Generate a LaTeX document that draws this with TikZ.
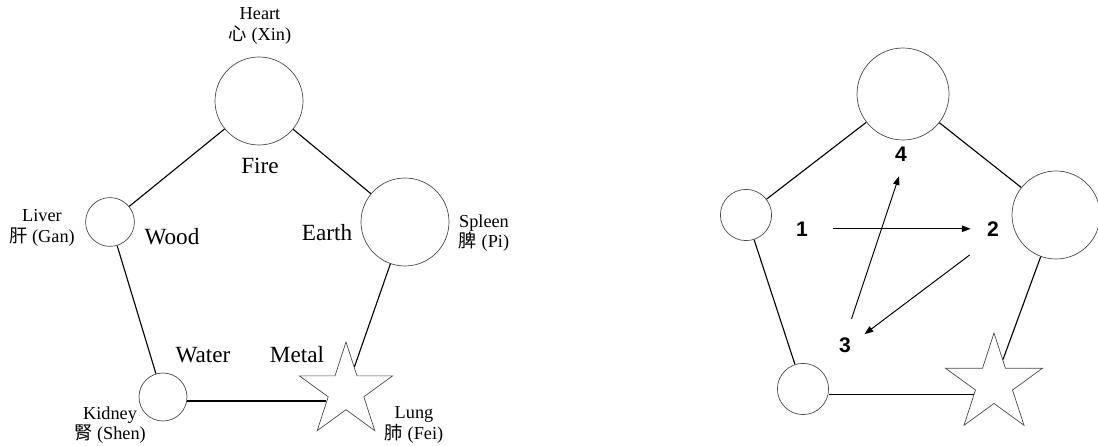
\documentclass[tikz,border=0pt]{standalone}
\usepackage{fontspec}
\setmainfont{Liberation Serif}
\newfontfamily\cjk{Noto Sans CJK TC}
\newfontfamily\numfont{Liberation Sans}
\usetikzlibrary{shapes.geometric,arrows.meta}

\tikzset{
  organ/.style={draw=black!70, line width=0.5pt, circle, inner sep=0pt, fill=white},
  lungstar/.style={draw=black!70, line width=0.5pt, star, star points=5,
    star point ratio=2.618, inner sep=0pt, fill=white},
  link/.style={line width=0.8pt},
  organname/.style={align=center, font=\fontsize{13}{14.5}\selectfont},
  element/.style={font=\fontsize{16.5}{19}\selectfont},
  num/.style={font=\numfont\bfseries\fontsize{15}{18}\selectfont,
    circle, inner sep=0pt, minimum size=1.1cm},
  flow/.style={line width=0.7pt, -{Triangle[length=2.2mm,width=1.6mm]}}
}

\begin{document}
\begin{tikzpicture}
  \useasboundingbox (0,0) rectangle (27.45,11.15);

  % Five organs on a pentagon
  \node[organ, minimum size=2.2cm]  (heart)  at (6.475,8.625) {};
  \node[organ, minimum size=1.22cm] (liver)  at (2.75,5.6) {};
  \node[organ, minimum size=2.2cm]  (spleen) at (10.125,5.6) {};
  \node[organ, minimum size=1.2cm]  (kidney) at (4.075,1.225) {};
  \node[lungstar, minimum size=2.45cm] (lung) at (8.65,1.375) {};

  \draw[link] (heart) -- (liver);
  \draw[link] (heart) -- (spleen);
  \draw[link] (spleen) -- (lung);
  \draw[link] (liver) -- (kidney);
  \draw[link] (lung.207) -- (lung.207 -| kidney.east);

  % Organ names
  \node[organname] (heartname)  at (6.5,10.5)   {Heart\\{\cjk 心} (Xin)};
  \node[organname] (livername)  at (1.05,5.45)  {Liver\\{\cjk 肝} (Gan)};
  \node[organname] (spleenname) at (12.1,5.325) {Spleen\\{\cjk 脾} (Pi)};
  \node[organname] (kidneyname) at (2.75,0.525) {Kidney\\{\cjk 腎} (Shen)};
  \node[organname] (lungname)   at (10.35,0.525) {Lung\\{\cjk 肺} (Fei)};

  % Elements
  \node[element] (fire)  at (6.5,7.0)    {Fire};
  \node[element] (wood)  at (4.3,5.225)  {Wood};
  \node[element] (earth) at (8.175,5.325) {Earth};
  \node[element] (water) at (5.075,2.275) {Water};
  \node[element] (metal) at (7.425,2.275) {Metal};

  % Same pentagon, numbered
  \node[organ, minimum size=2.3cm]  (top)     at (22.575,8.8) {};
  \node[organ, minimum size=1.28cm] (left)    at (18.65,5.775) {};
  \node[organ, minimum size=2.2cm]  (right)   at (26.4,5.775) {};
  \node[organ, minimum size=1.28cm] (botleft) at (20.075,1.425) {};
  \node[lungstar, minimum size=2.55cm] (botright) at (24.85,1.55) {};

  \draw[link] (top) -- (left);
  \draw[link] (top) -- (right);
  \draw[link] (right) -- (botright);
  \draw[link] (left) -- (botleft);
  \draw[link] (botright.207) -- (botright.207 -| botleft.east);

  \node[num] (n1) at (20.05,5.43)  {1};
  \node[num] (n2) at (24.825,5.43) {2};
  \node[num] (n3) at (21.125,2.525) {3};
  \node[num] (n4) at (22.525,7.3)  {4};

  \draw[flow, shorten <=0.22cm] (n1) -- (n2);
  \draw[flow, shorten <=0.33cm] (n2.-125) -- (n3.29);
  \draw[flow, shorten <=0.12cm] (n3.77) -- (n4.-95);
\end{tikzpicture}
\end{document}
